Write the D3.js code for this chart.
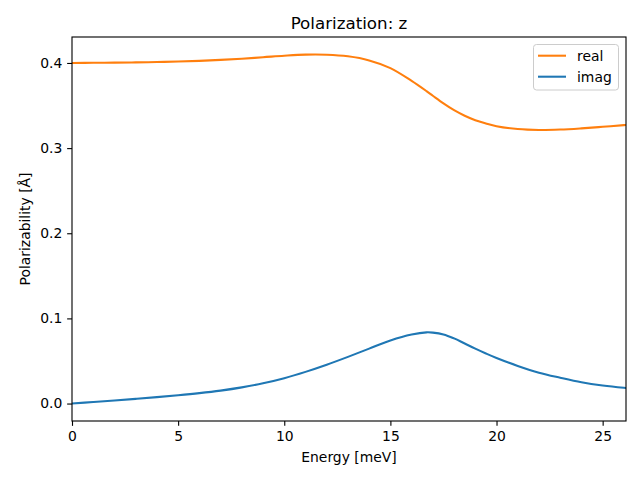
<!DOCTYPE html>
<html>
<head>
<meta charset="utf-8">
<script src="https://cdn.jsdelivr.net/npm/d3@7"></script>
<style>
  body { margin: 0; background: #fff; }
  text { font-family: "DejaVu Sans", sans-serif; fill: #000; }
</style>
</head>
<body>
<svg id="chart" width="640" height="480"></svg>
<script>
const energy = [0, 1, 2, 3, 4, 5, 6, 7, 8, 9, 10, 11, 12, 13, 14, 15, 16, 16.7, 17, 17.5, 18, 18.5, 19, 19.5, 20, 21, 22, 23, 24, 25, 26, 26.1];
const realValues = [0.4000, 0.4002, 0.4004, 0.4007, 0.4011, 0.4017, 0.4025, 0.4036, 0.4050, 0.4067, 0.4085, 0.4098, 0.4097, 0.4078, 0.4030, 0.3940, 0.3790, 0.3670, 0.3615, 0.3525, 0.3445, 0.3380, 0.3328, 0.3290, 0.3258, 0.3224, 0.3213, 0.3218, 0.3232, 0.3250, 0.3270, 0.3272];
const imagValues = [0.0000, 0.0018, 0.0036, 0.0055, 0.0075, 0.0097, 0.0122, 0.0152, 0.0190, 0.0238, 0.0298, 0.0372, 0.0456, 0.0548, 0.0645, 0.0740, 0.0810, 0.0836, 0.0833, 0.0812, 0.0765, 0.0705, 0.0645, 0.0588, 0.0535, 0.0442, 0.0362, 0.0303, 0.0250, 0.0212, 0.0185, 0.0183];
const xTicks = [0, 5, 10, 15, 20, 25];
const yTicks = [0.0, 0.1, 0.2, 0.3, 0.4];
const seriesNames = ["real", "imag"];
const seriesColors = ["#ff7f0e", "#1f77b4"];

(function () {
const svg = d3.select("#chart");
const mLeft = 72, mRight = 626, mTop = 37, mBottom = 421;

const x = d3.scaleLinear().domain([0, 26.1]).range([mLeft, mRight]);
const y = d3.scaleLinear().domain([-0.0205, 0.4305]).range([mBottom, mTop]);

svg.append("defs").append("clipPath").attr("id", "clip")
  .append("rect").attr("x", mLeft).attr("y", mTop).attr("width", mRight - mLeft).attr("height", mBottom - mTop);

const line = d3.line().x(d => x(d[0])).y(d => y(d[1])).curve(d3.curveCatmullRom.alpha(0.5));

const series = [realValues, imagValues];
series.forEach((vals, i) => {
  svg.append("path")
    .datum(energy.map((e, j) => [e, vals[j]]))
    .attr("d", line)
    .attr("fill", "none")
    .attr("stroke", seriesColors[i])
    .attr("stroke-width", 2.08)
    .attr("stroke-linecap", "square")
    .attr("clip-path", "url(#clip)");
});

const xAxis = d3.axisBottom(x).tickValues(xTicks).tickFormat(d3.format("d")).tickSize(4.86).tickPadding(4.86);
const yAxis = d3.axisLeft(y).tickValues(yTicks).tickFormat(d3.format(".1f")).tickSize(4.86).tickPadding(4.86);

const gx = svg.append("g").attr("transform", `translate(0,${mBottom})`).call(xAxis);
const gy = svg.append("g").attr("transform", `translate(${mLeft},0)`).call(yAxis);
[gx, gy].forEach(g => {
  g.select(".domain").remove();
  g.selectAll(".tick line").attr("stroke", "#000").attr("stroke-width", 1.11);
  g.selectAll(".tick text").attr("font-size", "13.9px").attr("font-family", "DejaVu Sans, sans-serif").attr("fill", "#000");
});

svg.append("rect").attr("x", mLeft).attr("y", mTop).attr("width", mRight - mLeft).attr("height", mBottom - mTop)
  .attr("fill", "none").attr("stroke", "#000").attr("stroke-width", 1.11);

svg.append("text").attr("x", (mLeft + mRight) / 2).attr("y", 29).attr("text-anchor", "middle")
  .attr("font-size", "16.7px").text("Polarization: z");
svg.append("text").attr("x", (mLeft + mRight) / 2).attr("y", 462).attr("text-anchor", "middle")
  .attr("font-size", "13.9px").text("Energy [meV]");
svg.append("text").attr("transform", `translate(30,${(mTop + mBottom) / 2}) rotate(-90)`).attr("text-anchor", "middle")
  .attr("font-size", "13.9px").text("Polarizability [Å]");

const lg = svg.append("g");
lg.append("rect").attr("x", 533.5).attr("y", 44.5).attr("width", 85).attr("height", 45.5).attr("rx", 3)
  .attr("fill", "#fff").attr("fill-opacity", 0.8).attr("stroke", "#cccccc").attr("stroke-width", 1);
seriesNames.forEach((name, i) => {
  const yy = 55.7 + i * 21;
  lg.append("line").attr("x1", 538).attr("x2", 566).attr("y1", yy).attr("y2", yy)
    .attr("stroke", seriesColors[i]).attr("stroke-width", 2.08);
  lg.append("text").attr("x", 577).attr("y", yy + 5).attr("font-size", "13.9px").text(name);
});
})();
</script>
</body>
</html>
